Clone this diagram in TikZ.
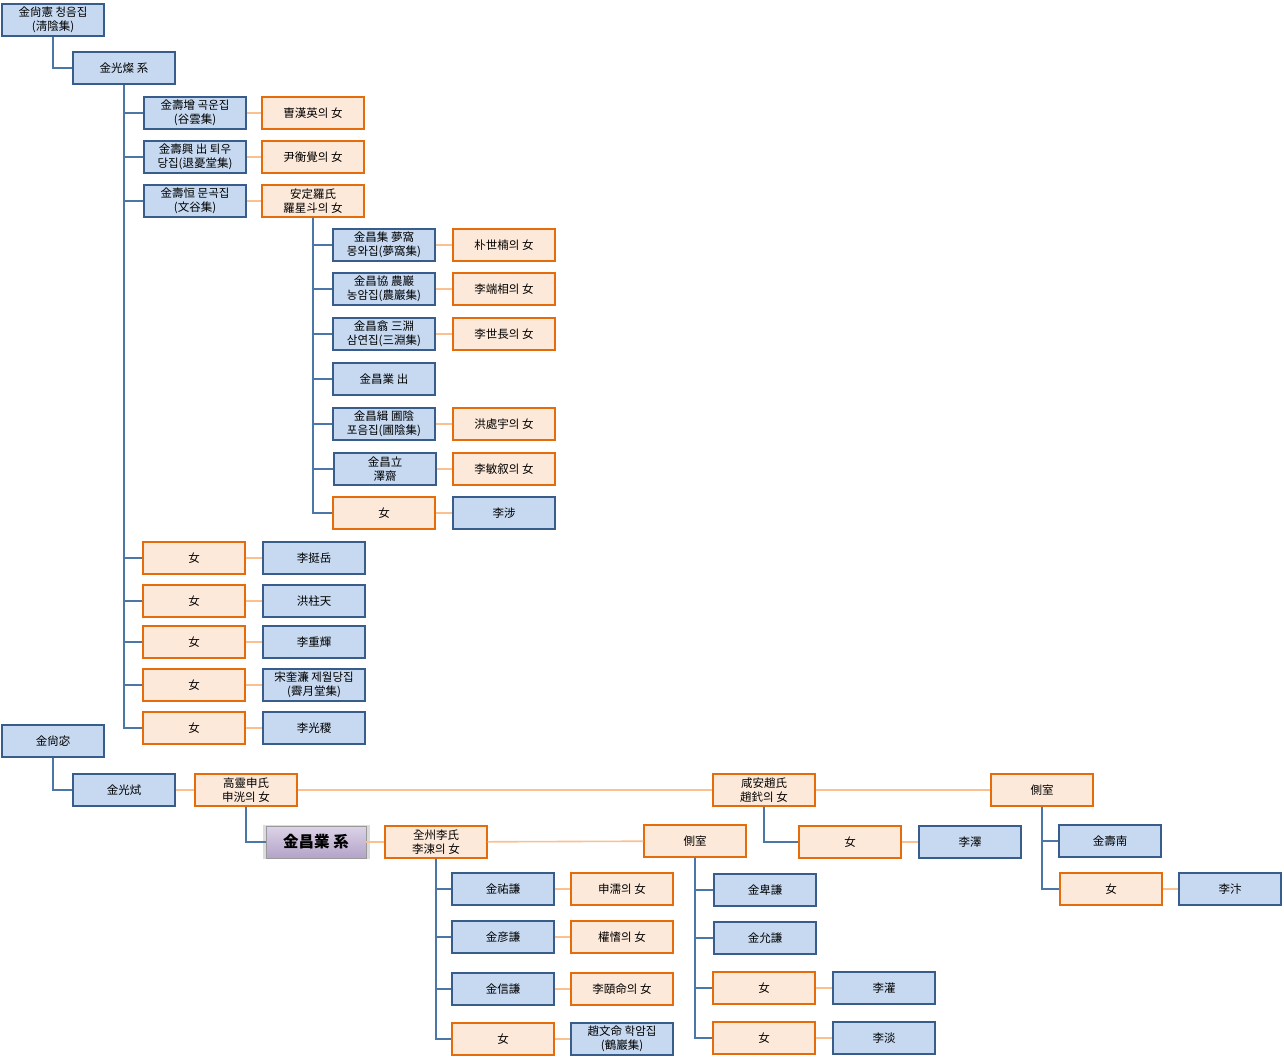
\documentclass[tikz,border=0pt]{standalone}
\usepackage{fontspec}
\newfontfamily\krfont{Noto Sans CJK KR}
\usepackage{tikz}
\usetikzlibrary{shadows}
\definecolor{boxblue}{HTML}{C6D9F1}
\definecolor{lineblue}{HTML}{385D8A}
\definecolor{boxorange}{HTML}{FDE9D9}
\definecolor{lineorange}{HTML}{E46C0A}
\definecolor{wedorange}{HTML}{FAC090}
\definecolor{trunkblue}{HTML}{4A76A8}
\definecolor{chieftop}{HTML}{DCD3E8}
\definecolor{chiefbot}{HTML}{B3A3C8}
\begin{document}
\begin{tikzpicture}[x=1pt,y=-1pt,
  every node/.style={font=\krfont\fontsize{11.5}{14}\selectfont,align=center,minimum width=102pt,minimum height=32pt,inner sep=1pt,line width=1.4pt},
  man/.style={draw=lineblue,fill=boxblue},
  wife/.style={draw=lineorange,fill=boxorange},
  chief/.style={draw=black!40,line width=0.8pt,top color=chieftop,bottom color=chiefbot,minimum width=100pt,
    font=\krfont\bfseries\fontsize{15.5}{18}\selectfont,general shadow={fill=black!14,shadow scale=1.07}},
  kin/.style={draw=trunkblue,line width=2.2pt},
  wed/.style={draw=wedorange,line width=1.6pt}]
\useasboundingbox (0,0) rectangle (1284,1058);
% upper line
\node[man] (s0) at (53,20) {金尙憲 청음집\\(淸陰集)};
\node[man] (s1) at (124,68) {金光燦 系};
\node[man] (c1) at (195,113) {金壽增 곡운집\\(谷雲集)};
\node[wife] (w1) at (313,113) {曺漢英의 女};
\node[man] (c2) at (195,157) {金壽興 出 퇴우\\당집(退憂堂集)};
\node[wife] (w2) at (313,157) {尹衡覺의 女};
\node[man] (c3) at (195,201) {金壽恒 문곡집\\(文谷集)};
\node[wife] (w3) at (313,201) {安定羅氏\\羅星斗의 女};
\node[man] (g1) at (384,245) {金昌集 夢窩\\몽와집(夢窩集)};
\node[wife] (gw1) at (504,245) {朴世楠의 女};
\node[man] (g2) at (384,289) {金昌協 農巖\\농암집(農巖集)};
\node[wife] (gw2) at (504,289) {李端相의 女};
\node[man] (g3) at (384,334) {金昌翕 三淵\\삼연집(三淵集)};
\node[wife] (gw3) at (504,334) {李世長의 女};
\node[man] (g4) at (384,379) {金昌業 出};
\node[man] (g5) at (384,424) {金昌緝 圃陰\\포음집(圃陰集)};
\node[wife] (gw5) at (504,424) {洪處宇의 女};
\node[man] (g6) at (385,469) {金昌立\\澤齋};
\node[wife] (gw6) at (504,469) {李敏叙의 女};
\node[wife] (g7) at (384,513) {女};
\node[man] (gw7) at (504,513) {李涉};
\node[wife] (d1) at (194,558) {女};
\node[man] (h1) at (314,558) {李挺岳};
\node[wife] (d2) at (194,601) {女};
\node[man] (h2) at (314,601) {洪柱天};
\node[wife] (d3) at (194,642) {女};
\node[man] (h3) at (314,642) {李重輝};
\node[wife] (d4) at (194,685) {女};
\node[man] (h4) at (314,685) {宋奎濂 제월당집\\(霽月堂集)};
\node[wife] (d5) at (194,728) {女};
\node[man] (h5) at (314,728) {李光稷};
\draw[kin] (s0.south) |- (s1.west);
\foreach \n in {c1,c2,c3,d1,d2,d3,d4,d5} \draw[kin] (s1.south) |- (\n.west);
\foreach \n in {g1,g2,g3,g4,g5,g6,g7} \draw[kin] (w3.south) |- (\n.west);
\foreach \a/\b in {c1/w1,c2/w2,c3/w3,g1/gw1,g2/gw2,g3/gw3,g5/gw5,g6/gw6,g7/gw7,d1/h1,d2/h2,d3/h3,d4/h4,d5/h5}
  \draw[wed] (\a) -- (\b);
% lower line
\node[man] (t0) at (53,741) {金尙宓};
\node[man] (t1) at (124,790) {金光烒};
\node[wife] (tw1) at (246,790) {高靈申氏\\申洸의 女};
\node[wife] (tw2) at (764,790) {咸安趙氏\\趙釴의 女};
\node[wife] (tw3) at (1042,790) {側室};
\node[chief] (cy) at (316,842) {金昌業 系};
\node[wife] (cw1) at (436,842) {全州李氏\\李涑의 女};
\node[wife] (cw2) at (695,841) {側室};
\node[man] (k1) at (503,889) {金祐謙};
\node[wife] (kw1) at (622,889) {申濡의 女};
\node[man] (k2) at (503,937) {金彦謙};
\node[wife] (kw2) at (622,937) {權愭의 女};
\node[man] (k3) at (503,989) {金信謙};
\node[wife] (kw3) at (622,989) {李頤命의 女};
\node[wife] (k4) at (503,1039) {女};
\node[man] (kw4) at (622,1039) {趙文命 학암집\\(鶴巖集)};
\node[man] (m1) at (765,890) {金卑謙};
\node[man] (m2) at (765,938) {金允謙};
\node[wife] (m3) at (764,988) {女};
\node[man] (mh3) at (884,988) {李灌};
\node[wife] (m4) at (764,1038) {女};
\node[man] (mh4) at (884,1038) {李淡};
\node[wife] (z1) at (850,842) {女};
\node[man] (zh1) at (970,842) {李澤};
\node[man] (r1) at (1110,841) {金壽南};
\node[wife] (r2) at (1111,889) {女};
\node[man] (rh2) at (1230,889) {李汴};
\draw[kin] (t0.south) |- (t1.west);
\draw[kin] (tw1.south) |- (cy.west);
\draw[kin] (tw2.south) |- (z1.west);
\foreach \n in {k1,k2,k3,k4} \draw[kin] (cw1.south) |- (\n.west);
\foreach \n in {m1,m2,m3,m4} \draw[kin] (cw2.south) |- (\n.west);
\foreach \n in {r1,r2} \draw[kin] (tw3.south) |- (\n.west);
\foreach \a/\b in {t1/tw1,tw1/tw2,tw2/tw3,cy/cw1,cw1/cw2,k1/kw1,k2/kw2,k3/kw3,k4/kw4,m3/mh3,m4/mh4,z1/zh1,r2/rh2}
  \draw[wed] (\a) -- (\b);
\end{tikzpicture}
\end{document}
